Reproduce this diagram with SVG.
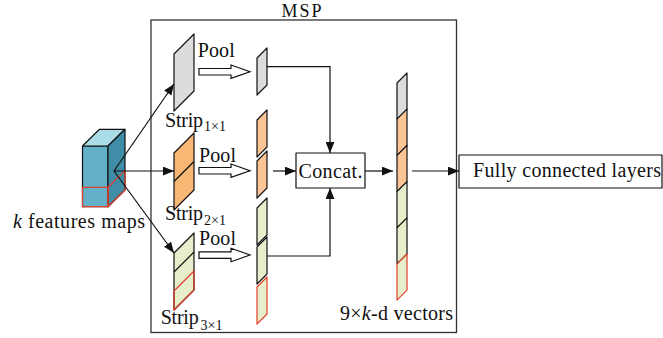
<svg xmlns="http://www.w3.org/2000/svg" width="663" height="338" viewBox="0 0 663 338">
<style>
text{font-family:"Liberation Serif","Times New Roman",serif;font-size:20px;fill:#111}
.sub{font-size:14px}
.k{stroke:#111;stroke-width:1.2;stroke-linejoin:round}
.r{stroke:#e2402a;stroke-width:1.2;stroke-linejoin:round}
.g{fill:#dcdcdc}
.o{fill:#f8b775}
.op{fill:#fcc596}
.gr{fill:#e6eecb}
.ln{fill:none;stroke:#111;stroke-width:1.2}
.ha{fill:#fff;stroke:#111;stroke-width:1.2}
</style>
<defs>
<marker id="ah" viewBox="0 0 10 8" refX="10" refY="4" markerWidth="11" markerHeight="9" markerUnits="userSpaceOnUse" orient="auto">
<path d="M0,0 L10,4 L0,8 z" fill="#111"/>
</marker>
</defs>
<rect id="msp" x="151" y="20" width="305.5" height="312.5" fill="none" stroke="#333" stroke-width="1.3"/>
<text x="281.5" y="16.5" style="font-size:18px" textLength="40">MSP</text>

<g id="cube">
<rect x="82.5" y="146" width="25.5" height="60.7" fill="#63b1c9" class="k"/>
<polygon points="82.5,146 99.5,129.3 125,129.3 108,146" fill="#abdde9" class="k"/>
<polygon points="108,146 125,129.3 125,190 108,206.7" fill="#3f8da6" class="k"/>
<rect x="82.5" y="187.3" width="25.5" height="19.4" fill="none" class="r"/>
<polygon points="108,187.3 125,170.6 125,190 108,206.7" fill="none" class="r"/>
<text x="13" y="228" textLength="132"><tspan font-style="italic">k</tspan> features maps</text>
</g>

<g id="strip1">
<polygon points="174,54 194,34 194,91 174,111" class="g k"/>
<text x="165" y="127" textLength="38">Strip</text>
<text x="204" y="131" class="sub" textLength="22">1×1</text>
</g>
<g id="strip2">
<polygon points="174,153 194,133 194,190 174,210" class="o k"/>
<line x1="174" y1="181.5" x2="194" y2="161.5" class="k"/>
<text x="165" y="220" textLength="38">Strip</text>
<text x="204" y="225" class="sub" textLength="22">2×1</text>
</g>
<g id="strip3">
<polygon points="174,253 194,233 194,290 174,310" class="gr k"/>
<line x1="174" y1="272" x2="194" y2="252" class="k"/>
<polygon points="174,291 194,271 194,290 174,310" fill="none" class="r"/>
<text x="160.7" y="324.3" textLength="38">Strip</text>
<text x="200.5" y="330" class="sub" textLength="22">3×1</text>
</g>

<g id="pool-arrows">
<polygon points="199,68.5 231,68.5 231,65 250,71.7 231,78.4 231,75 199,75" class="ha"/>
<polygon points="199,167.5 231,167.5 231,164 250,170.7 231,177.4 231,174 199,174" class="ha"/>
<polygon points="199,251.8 231,251.8 231,248.3 250,255 231,261.7 231,258.3 199,258.3" class="ha"/>
<text x="197.7" y="57" textLength="37">Pool</text>
<text x="199" y="161.7" textLength="37">Pool</text>
<text x="199" y="245" textLength="37">Pool</text>
</g>

<g id="pooled">
<polygon points="257,58 267,48 267,85 257,95" class="g k"/>
<polygon points="257,120 267,110 267,147 257,157" class="op k"/>
<polygon points="257,161 267,151 267,188 257,198" class="op k"/>
<polygon points="257,208 267,198 267,235 257,245" class="gr k"/>
<polygon points="257,247 267,237 267,274 257,284" class="gr k"/>
<polygon points="257,287 267,277 267,314 257,324" class="gr r"/>
</g>

<g id="concat">
<rect x="296" y="153" width="69" height="35" fill="#fff" class="k"/>
<text x="298.5" y="177.5" textLength="64">Concat.</text>
</g>

<g id="vector">
<polygon points="397,83 407,73 407,109.2 397,119.2" class="g k"/>
<polygon points="397,119.2 407,109.2 407,145.4 397,155.4" class="op k"/>
<polygon points="397,155.4 407,145.4 407,181.6 397,191.6" class="op k"/>
<polygon points="397,191.6 407,181.6 407,217.8 397,227.8" class="gr k"/>
<polygon points="397,227.8 407,217.8 407,254 397,264" class="gr k"/>
<polygon points="397,264 407,254 407,290.2 397,300.2" class="gr r"/>
<text x="340" y="320" textLength="113">9×<tspan font-style="italic">k</tspan>-d vectors</text>
</g>

<g id="fc">
<rect x="459" y="155" width="203" height="33" fill="#fff" class="k"/>
<text x="473" y="177" textLength="188">Fully connected layers</text>
</g>

<g id="connectors">
<line x1="114" y1="171" x2="174" y2="84" class="ln" marker-end="url(#ah)"/>
<line x1="114" y1="171" x2="174" y2="171" class="ln" marker-end="url(#ah)"/>
<line x1="114" y1="171" x2="174" y2="253" class="ln" marker-end="url(#ah)"/>
<polyline points="267,66.7 330,66.7 330,153" class="ln" marker-end="url(#ah)"/>
<polyline points="267,256 330,256 330,188" class="ln" marker-end="url(#ah)"/>
<line x1="273" y1="171" x2="296" y2="171" class="ln" marker-end="url(#ah)"/>
<line x1="365" y1="171" x2="393" y2="171" class="ln" marker-end="url(#ah)"/>
<line x1="412" y1="171" x2="459" y2="171" class="ln" marker-end="url(#ah)"/>
</g>
</svg>
